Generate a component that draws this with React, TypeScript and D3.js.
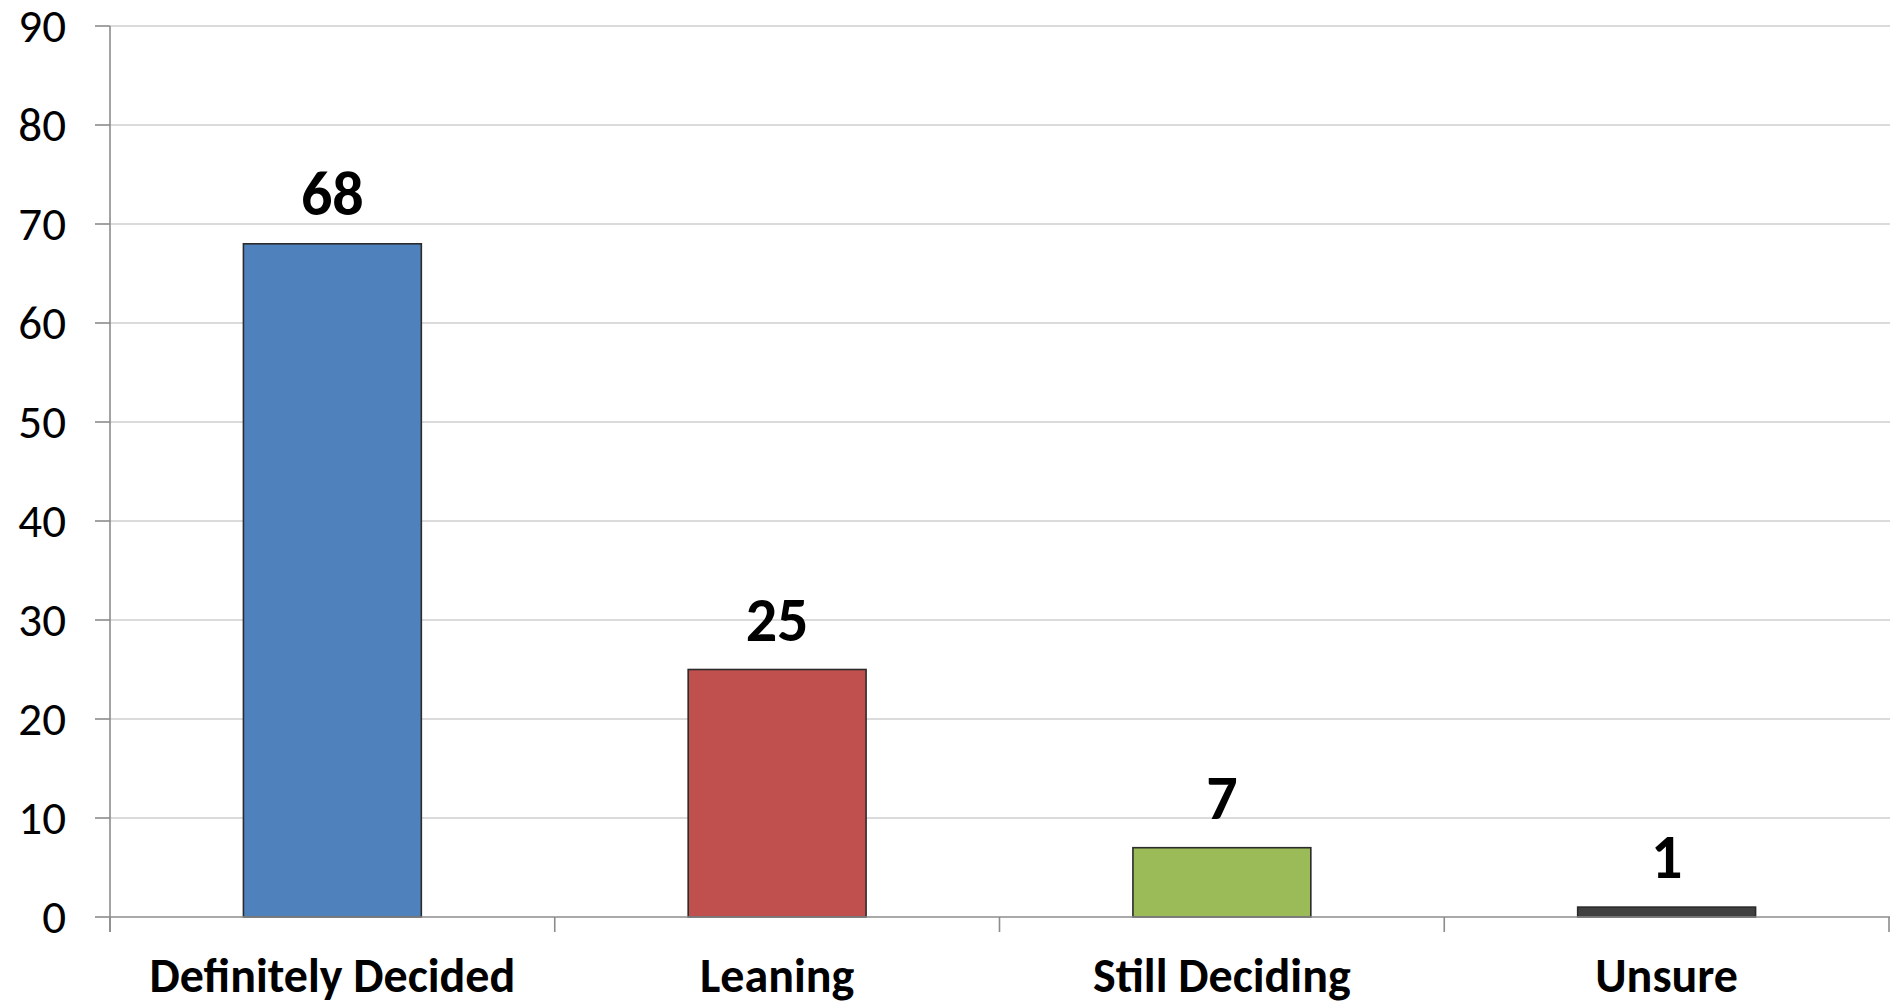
import { useEffect, useRef } from 'react';
import * as d3 from 'd3';

const categories = ['Definitely Decided', 'Leaning', 'Still Deciding', 'Unsure'];
const values = [68, 25, 7, 1];
const barColors = ['#4F81BD', '#C0504D', '#9BBB59', '#404040'];
const yTicks = [0, 10, 20, 30, 40, 50, 60, 70, 80, 90];

const FONT = 'Calibri, Carlito, Lato, sans-serif';

const App = () => {
  const svgRef = useRef<SVGSVGElement>(null);

  useEffect(() => {
    if (!svgRef.current) return;
    const svg = d3.select(svgRef.current);
    svg.selectAll('*').remove();

    const width = 1890;
    const left = 110;
    const right = 1889;
    const top = 26;
    const bottom = 917;

    const x = d3.scaleBand<string>()
      .domain(categories)
      .range([left, right])
      .paddingInner(0.6)
      .paddingOuter(0.3);

    const y = d3.scaleLinear().domain([0, 90]).range([bottom, top]);

    // gridlines
    svg.append('g')
      .selectAll('line')
      .data(yTicks.filter(t => t > 0))
      .join('line')
      .attr('x1', left)
      .attr('x2', width)
      .attr('y1', d => y(d))
      .attr('y2', d => y(d))
      .attr('stroke', '#cfcfcf')
      .attr('stroke-width', 1.6);

    // y ticks + labels
    const yg = svg.append('g');
    yg.selectAll('line')
      .data(yTicks)
      .join('line')
      .attr('x1', 95)
      .attr('x2', left)
      .attr('y1', d => y(d))
      .attr('y2', d => y(d))
      .attr('stroke', '#8c8c8c')
      .attr('stroke-width', 1.6);
    yg.selectAll('text')
      .data(yTicks)
      .join('text')
      .attr('x', 66)
      .attr('y', d => y(d) + 16)
      .attr('text-anchor', 'end')
      .attr('font-family', FONT)
      .attr('font-size', 47)
      .attr('fill', '#000')
      .text(d => d);

    // bars
    svg.append('g')
      .selectAll('rect')
      .data(values)
      .join('rect')
      .attr('x', (_, i) => x(categories[i])!)
      .attr('width', x.bandwidth())
      .attr('y', d => y(d))
      .attr('height', d => bottom - y(d))
      .attr('fill', (_, i) => barColors[i])
      .attr('stroke', '#2b2b2b')
      .attr('stroke-width', 1.6);

    // value labels
    svg.append('g')
      .selectAll('text')
      .data(values)
      .join('text')
      .attr('x', (_, i) => x(categories[i])! + x.bandwidth() / 2)
      .attr('y', d => y(d) - 29)
      .attr('text-anchor', 'middle')
      .attr('font-family', FONT)
      .attr('font-weight', 'bold')
      .attr('font-size', 62)
      .attr('fill', '#000')
      .text(d => d);

    // axes lines
    svg.append('line')
      .attr('x1', left).attr('x2', left)
      .attr('y1', top).attr('y2', bottom + 15)
      .attr('stroke', '#8c8c8c').attr('stroke-width', 1.6);
    svg.append('line')
      .attr('x1', left).attr('x2', width)
      .attr('y1', bottom).attr('y2', bottom)
      .attr('stroke', '#8c8c8c').attr('stroke-width', 1.6);

    // category ticks
    const step = x.step();
    const catTicks = d3.range(categories.length + 1).map(i => Math.min(left + i * step, right));
    svg.append('g')
      .selectAll('line')
      .data(catTicks)
      .join('line')
      .attr('x1', d => d)
      .attr('x2', d => d)
      .attr('y1', bottom)
      .attr('y2', bottom + 15)
      .attr('stroke', '#8c8c8c')
      .attr('stroke-width', 1.6);

    // category labels
    svg.append('g')
      .selectAll('text')
      .data(categories)
      .join('text')
      .attr('x', d => x(d)! + x.bandwidth() / 2)
      .attr('y', 992)
      .attr('text-anchor', 'middle')
      .attr('font-family', FONT)
      .attr('font-weight', 'bold')
      .attr('font-size', 48)
      .attr('fill', '#000')
      .text(d => d);
  }, []);

  return (
    <div style={{ position: 'absolute', left: 0, top: 0 }}>
      <svg ref={svgRef} width={1890} height={1004} style={{ display: 'block' }} />
    </div>
  );
};

export default App;
